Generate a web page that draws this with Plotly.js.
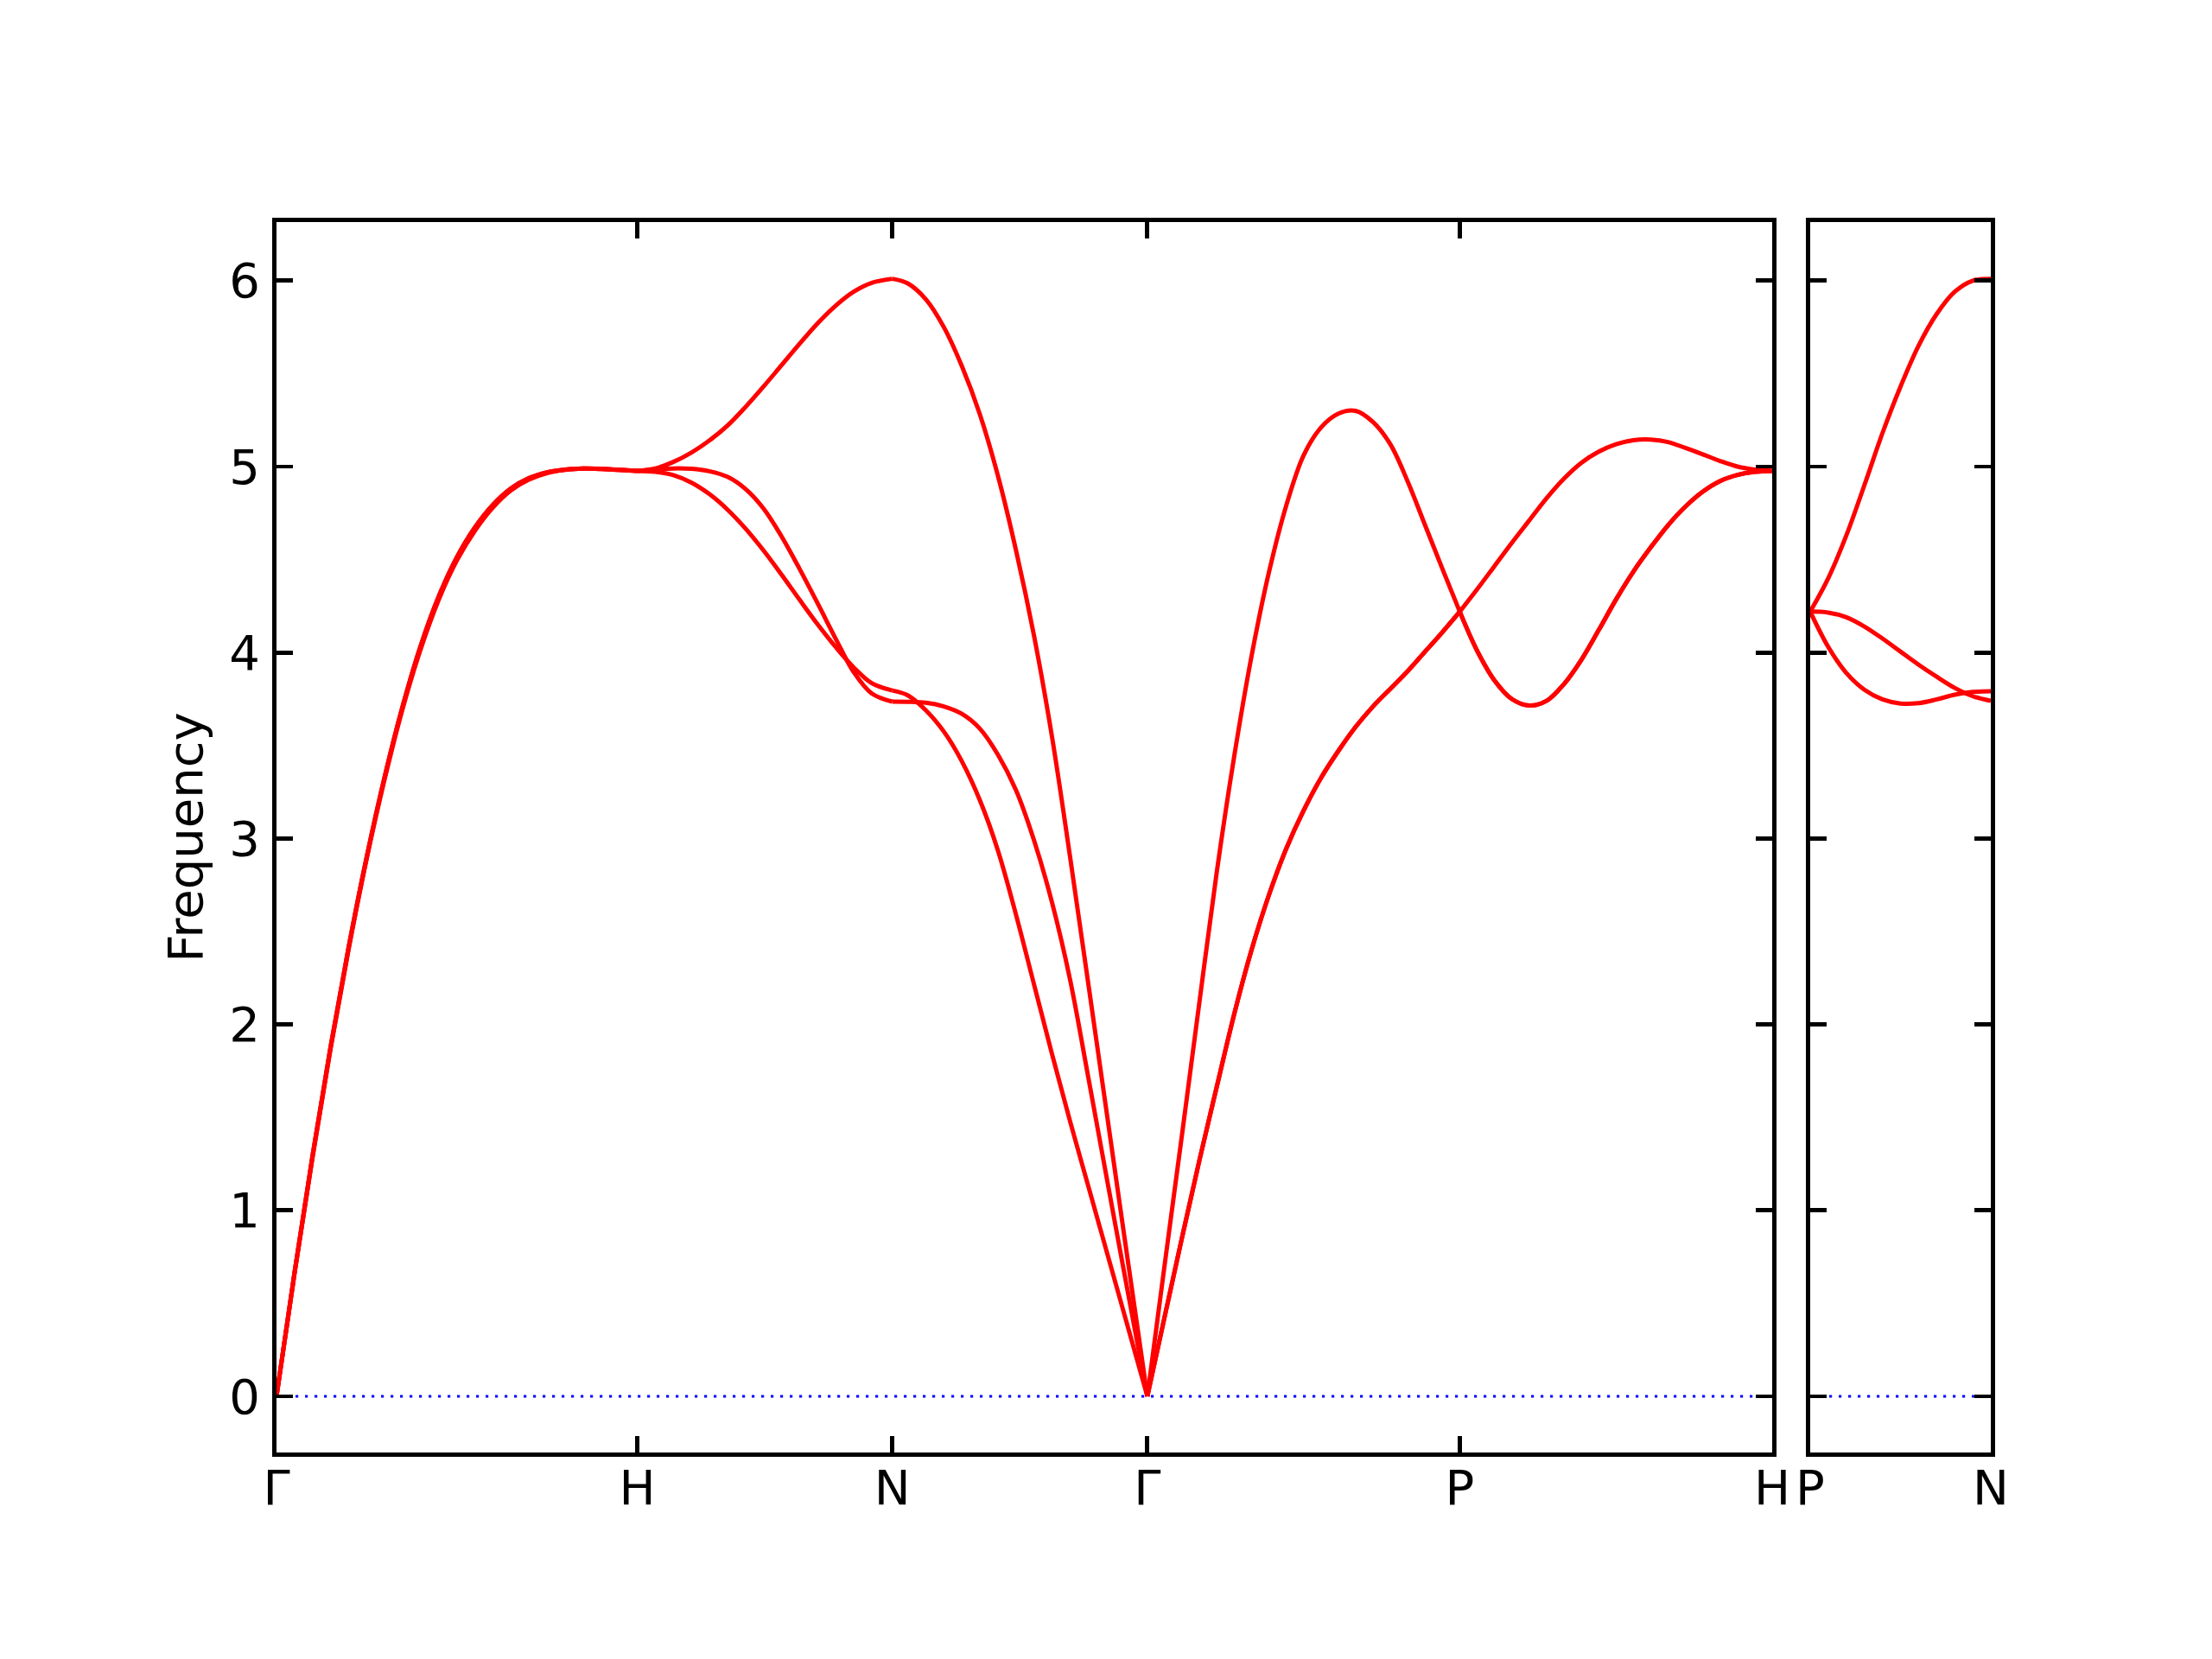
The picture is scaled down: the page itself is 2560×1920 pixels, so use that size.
<!DOCTYPE html>
<html>
<head>
<meta charset="utf-8">
<script src="https://cdn.plot.ly/plotly-3.0.1.min.js"></script>
<style>html,body{margin:0;padding:0;background:#fff;}</style>
</head>
<body>
<div id="chart" style="width:2560px;height:1920px;"></div>
<script>
// ---- special k-points (path distance) ----
const kPositions = [0, 1.0, 1.7071, 2.4142, 3.2802, 4.1463];
const kLabels = ['Γ', 'H', 'N', 'Γ', 'P', 'H'];
const kPositions2 = [0, 0.5];
const kLabels2 = ['P', 'N'];
const freqTicks = [0, 1, 2, 3, 4, 5, 6];

// ---- Γ → H ----
const segGH_x = [0, 0.05, 0.1, 0.15, 0.2, 0.25, 0.3, 0.35, 0.4, 0.45, 0.5, 0.55, 0.6, 0.65, 0.7, 0.75, 0.8, 0.85, 0.9, 0.95, 1.0];
const segGH_b1 = [0, 0.665, 1.295, 1.88, 2.415, 2.90, 3.333, 3.713, 4.038, 4.303, 4.513, 4.673, 4.795, 4.883, 4.938, 4.969, 4.984, 4.989, 4.987, 4.982, 4.977];
const segGH_b2 = [0, 0.665, 1.295, 1.88, 2.415, 2.90, 3.333, 3.713, 4.038, 4.303, 4.513, 4.673, 4.795, 4.883, 4.938, 4.969, 4.984, 4.989, 4.987, 4.982, 4.977];
const segGH_b3 = [0, 0.66, 1.285, 1.87, 2.405, 2.89, 3.32, 3.70, 4.02, 4.285, 4.495, 4.655, 4.78, 4.872, 4.93, 4.965, 4.982, 4.989, 4.988, 4.982, 4.977];

// ---- H → N ----
const segHN_x = [1.0, 1.05, 1.1, 1.15, 1.2, 1.25, 1.3, 1.35, 1.4, 1.45, 1.5, 1.55, 1.6, 1.65, 1.7071];
const segHN_b1 = [4.977, 4.972, 4.954, 4.914, 4.852, 4.769, 4.667, 4.549, 4.419, 4.284, 4.152, 4.03, 3.92, 3.835, 3.796];
const segHN_b2 = [4.977, 4.985, 4.99, 4.988, 4.975, 4.945, 4.88, 4.775, 4.625, 4.45, 4.265, 4.075, 3.895, 3.78, 3.736];
const segHN_b3 = [4.977, 4.99, 5.025, 5.075, 5.14, 5.22, 5.32, 5.43, 5.545, 5.66, 5.77, 5.865, 5.94, 5.988, 6.01];

// ---- N → Γ ----
const segNG_x = [1.7071, 1.75, 1.8, 1.85, 1.9, 1.95, 2.0, 2.05, 2.1, 2.15, 2.2, 2.25, 2.3, 2.35, 2.4142];
const segNG_b1 = [3.796, 3.77, 3.69, 3.575, 3.415, 3.205, 2.935, 2.59, 2.215, 1.84, 1.478, 1.133, 0.788, 0.443, 0];
const segNG_b2 = [3.736, 3.735, 3.73, 3.71, 3.67, 3.59, 3.45, 3.26, 2.99, 2.655, 2.24, 1.72, 1.19, 0.665, 0];
const segNG_b3 = [6.01, 5.985, 5.90, 5.75, 5.54, 5.28, 4.95, 4.55, 4.09, 3.545, 2.90, 2.225, 1.545, 0.865, 0];

// ---- Γ → P ----
const segGP_x = [2.4142, 2.4623, 2.5104, 2.5585, 2.6066, 2.6548, 2.7029, 2.7510, 2.7991, 2.8472, 2.8953, 2.9434, 2.9915, 3.0396, 3.0877, 3.1358, 3.1840, 3.2321, 3.2802];
const segGP_b1 = [0, 0.43, 0.855, 1.27, 1.665, 2.055, 2.40, 2.695, 2.945, 3.15, 3.325, 3.47, 3.60, 3.71, 3.805, 3.90, 4.005, 4.11, 4.22];
const segGP_b2 = [0, 0.43, 0.855, 1.27, 1.665, 2.055, 2.40, 2.695, 2.945, 3.15, 3.325, 3.47, 3.60, 3.71, 3.805, 3.90, 4.005, 4.11, 4.22];
const segGP_b3 = [0, 0.71, 1.41, 2.12, 2.82, 3.44, 3.98, 4.43, 4.79, 5.06, 5.21, 5.285, 5.30, 5.24, 5.12, 4.92, 4.685, 4.45, 4.22];

// ---- P → H ----
const segPH_x = [3.2802, 3.3283, 3.3764, 3.4246, 3.4727, 3.5208, 3.5689, 3.6170, 3.6652, 3.7133, 3.7614, 3.8095, 3.8577, 3.9058, 3.9539, 4.0020, 4.0501, 4.0982, 4.1463];
const segPH_b1 = [4.22, 4.01, 3.85, 3.75, 3.715, 3.74, 3.83, 3.96, 4.12, 4.285, 4.435, 4.565, 4.685, 4.785, 4.865, 4.922, 4.955, 4.972, 4.977];
const segPH_b2 = [4.22, 4.01, 3.85, 3.75, 3.715, 3.74, 3.83, 3.96, 4.12, 4.285, 4.435, 4.565, 4.685, 4.785, 4.865, 4.922, 4.955, 4.972, 4.977];
const segPH_b3 = [4.22, 4.34, 4.465, 4.59, 4.71, 4.83, 4.935, 5.02, 5.08, 5.12, 5.142, 5.145, 5.132, 5.10, 5.066, 5.03, 5.00, 4.984, 4.977];

// ---- P → N (second panel) ----
const segPN_x = [0, 0.05, 0.1, 0.15, 0.2, 0.25, 0.3, 0.35, 0.4, 0.45, 0.5];
const segPN_b1 = [4.22, 4.03, 3.89, 3.80, 3.748, 3.726, 3.728, 3.748, 3.773, 3.788, 3.792];
const segPN_b2 = [4.22, 4.215, 4.19, 4.14, 4.075, 4.005, 3.935, 3.87, 3.81, 3.765, 3.74];
const segPN_b3 = [4.22, 4.40, 4.63, 4.90, 5.18, 5.43, 5.65, 5.82, 5.94, 6.0, 6.01];

const mainSegments = [
  [segGH_x, [segGH_b1, segGH_b2, segGH_b3]],
  [segHN_x, [segHN_b1, segHN_b2, segHN_b3]],
  [segNG_x, [segNG_b1, segNG_b2, segNG_b3]],
  [segGP_x, [segGP_b1, segGP_b2, segGP_b3]],
  [segPH_x, [segPH_b1, segPH_b2, segPH_b3]]
];
const sideSegments = [
  [segPN_x, [segPN_b1, segPN_b2, segPN_b3]]
];

const RED = 'rgb(255,0,0)';
const BLUE = 'rgb(0,0,255)';
const traces = [];

// zero reference lines (blue dotted)
traces.push({x: [kPositions[0], kPositions[kPositions.length - 1]], y: [0, 0], xaxis: 'x', yaxis: 'y',
  mode: 'lines', line: {color: BLUE, width: 3.2, dash: '3.2px,7.8px'}, hoverinfo: 'skip'});
traces.push({x: [kPositions2[0], kPositions2[1]], y: [0, 0], xaxis: 'x2', yaxis: 'y2',
  mode: 'lines', line: {color: BLUE, width: 3.2, dash: '3.2px,7.8px'}, hoverinfo: 'skip'});

function addSegs(segs, xa, ya) {
  segs.forEach(([xs, bands]) => {
    bands.forEach(b => {
      traces.push({x: xs, y: b, xaxis: xa, yaxis: ya, mode: 'lines',
        line: {color: RED, width: 5, shape: 'spline', smoothing: 1}, hoverinfo: 'skip'});
    });
  });
}
addSegs(mainSegments, 'x', 'y');
addSegs(sideSegments, 'x2', 'y2');

const axisCommon = {
  ticks: 'inside', ticklen: 19, tickwidth: 4.8, tickcolor: 'black',
  showline: true, linewidth: 4.8, linecolor: 'black', mirror: 'ticks',
  showgrid: false, zeroline: false,
  tickfont: {family: 'DejaVu Sans', size: 56, color: 'black'}
};
const yRange = [-0.302, 6.315];

const layout = {
  width: 2560, height: 1920,
  margin: {l: 320, r: 256, t: 257, b: 239, pad: 0},
  paper_bgcolor: 'white', plot_bgcolor: 'white',
  showlegend: false,
  font: {family: 'DejaVu Sans', size: 56, color: 'black'},
  xaxis: Object.assign({}, axisCommon, {
    domain: [0, 0.87248], range: [0, 4.1463], anchor: 'y',
    tickmode: 'array', tickvals: kPositions, ticktext: kLabels, ticklabelstandoff: -12
  }),
  yaxis: Object.assign({}, axisCommon, {
    domain: [0, 1], range: yRange, anchor: 'x',
    tickmode: 'array', tickvals: freqTicks, ticktext: freqTicks.map(String),
    ticklabelstandoff: 3,
    title: {text: 'Frequency', font: {family: 'DejaVu Sans', size: 56, color: 'black'}, standoff: 14}
  }),
  xaxis2: Object.assign({}, axisCommon, {
    domain: [0.89466, 1], range: [0, 0.5], anchor: 'y2',
    tickmode: 'array', tickvals: kPositions2, ticktext: kLabels2, ticklabelstandoff: -12
  }),
  yaxis2: Object.assign({}, axisCommon, {
    domain: [0, 1], range: yRange, anchor: 'x2',
    tickmode: 'array', tickvals: freqTicks, showticklabels: false
  })
};

Plotly.newPlot('chart', traces, layout, {staticPlot: true, displayModeBar: false});
</script>
</body>
</html>
